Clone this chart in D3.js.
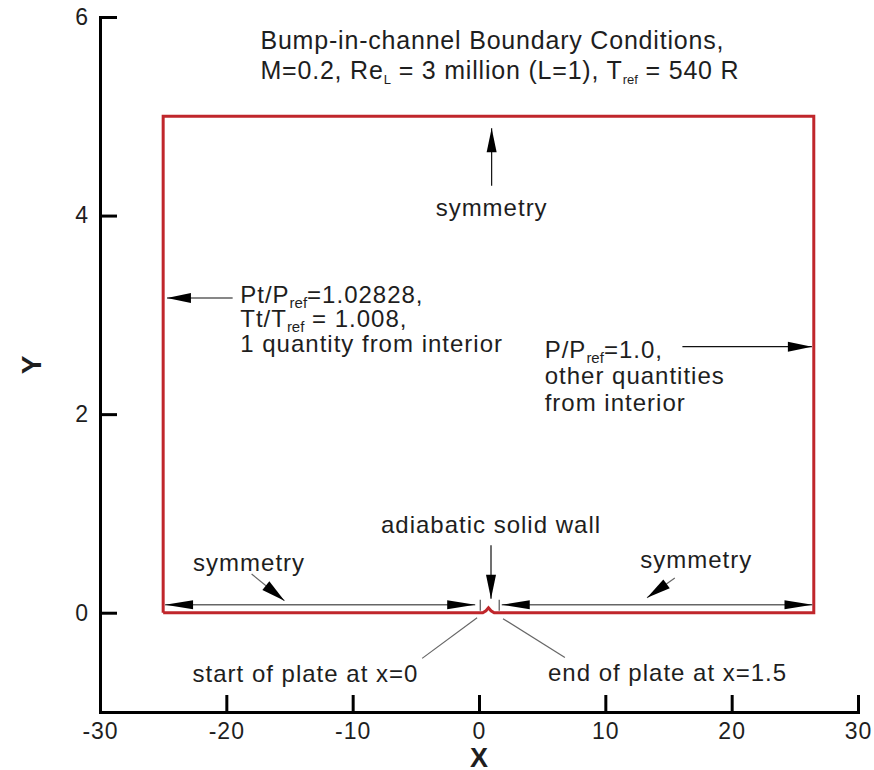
<!DOCTYPE html>
<html>
<head>
<meta charset="utf-8">
<script src="https://cdn.jsdelivr.net/npm/d3@7"></script>
<style>
  body { margin: 0; background: #fff; }
  svg text { font-family: "Liberation Sans", Arial, sans-serif; fill: #1e1e1e; }
</style>
</head>
<body>
<svg id="chart" width="874" height="770"></svg>
<script>
// axis ticks
var xMajor = [-30, -20, -10, 0, 10, 20, 30];
var yMajor = [0, 2, 4, 6];
var xMinorStep = 2, yMinorStep = 0.5;

// channel boundary (red line), with the small bump on the plate
var boundary = [[-25, 0], [0.3, 0], [0.55, 0.02], [0.75, 0.05], [0.95, 0.02], [1.2, 0],
                [26.5, 0], [26.5, 5], [-25, 5], [-25, 0]];

// plate start / end marks
var plateMarks = [0.1, 1.6];

// annotation arrows, data coords. kind: big = black pointer, sym = double headed gray line
var arrows = [
  {x1: 1.0, y1: 4.3, x2: 1.0, y2: 4.88, kind: "big"},
  {x1: -19.5, y1: 3.17, x2: -24.7, y2: 3.17, kind: "big"},
  {x1: 16.1, y1: 2.68, x2: 26.35, y2: 2.68, kind: "big"},
  {x1: 0.95, y1: 0.68, x2: 0.95, y2: 0.14, kind: "big"},
  {x1: -24.85, y1: 0.08, x2: -0.3, y2: 0.08, kind: "sym"},
  {x1: 1.8, y1: 0.08, x2: 26.4, y2: 0.08, kind: "sym"},
  {x1: -18.0, y1: 0.39, x2: -15.4, y2: 0.12, kind: "lead"},
  {x1: 15.5, y1: 0.35, x2: 13.3, y2: 0.15, kind: "lead"}
];

// leader lines without heads
var leaders = [
  {x1: -4.5, y1: -0.46, x2: -0.15, y2: -0.05},
  {x1: 1.9, y1: -0.06, x2: 6.8, y2: -0.45}
];

// text blocks; ["ref"] = subscript
var notes = [
  {x: -17.3, y: 5.68, anchor: "start", lh: 30, size: 25, ls: 0.8, sub: 13, lines: [
    ["Bump-in-channel Boundary Conditions,"],
    ["M=0.2, Re", ["L"], " = 3 million (L=1), T", ["ref"], " = 540 R"]]},
  {x: 1.0, y: 4.0, anchor: "middle", lh: 26, lines: [["symmetry"]]},
  {x: -18.9, y: 3.12, anchor: "start", lh: 24.5, lines: [
    ["Pt/P", ["ref"], "=1.02828,"],
    ["Tt/T", ["ref"], " = 1.008,"],
    ["1 quantity from interior"]]},
  {x: 5.2, y: 2.57, anchor: "start", lh: 26.5, lines: [
    ["P/P", ["ref"], "=1.0,"],
    ["other quantities"],
    ["from interior"]]},
  {x: 0.95, y: 0.8, anchor: "middle", lh: 26, lines: [["adiabatic solid wall"]]},
  {x: -18.2, y: 0.42, anchor: "middle", lh: 26, lines: [["symmetry"]]},
  {x: 17.2, y: 0.45, anchor: "middle", lh: 26, lines: [["symmetry"]]},
  {x: -4.8, y: -0.7, anchor: "end", lh: 26, lines: [["start of plate at x=0"]]},
  {x: 5.46, y: -0.69, anchor: "start", lh: 26, lines: [["end of plate at x=1.5"]]}
];

var svg = d3.select("#chart");
var x = d3.scaleLinear().domain([-30, 30]).range([100, 858]);
var y = d3.scaleLinear().domain([-1, 6]).range([712, 17]);

// axes
var xMinor = d3.range(-30, 31, xMinorStep).filter(function(v) { return xMajor.indexOf(v) < 0; });
var yMinor = d3.range(-1, 6.01, yMinorStep).filter(function(v) { return yMajor.indexOf(v) < 0; });
var fmt = function(d) { return String(d); };   // plain hyphen like the original

var gx = svg.append("g").attr("transform", "translate(0," + y(-1) + ")");
gx.call(d3.axisBottom(x).tickValues(xMinor).tickSize(-10).tickFormat(""));
gx.call(d3.axisBottom(x).tickValues(xMajor).tickSize(-17).tickPadding(11).tickFormat(fmt));

var gy = svg.append("g").attr("transform", "translate(" + x(-30) + ",0)");
gy.call(d3.axisLeft(y).tickValues(yMinor).tickSize(-10).tickFormat(""));
gy.call(d3.axisLeft(y).tickValues(yMajor).tickSize(-17).tickPadding(11).tickFormat(fmt));

svg.selectAll(".domain").attr("stroke", "#000").attr("stroke-width", 3);
svg.selectAll(".tick line").attr("stroke", "#000").attr("stroke-width", 2);
gx.selectAll(".tick line").filter(function(d) { return xMajor.indexOf(d) >= 0; }).attr("stroke-width", 3);
gy.selectAll(".tick line").filter(function(d) { return yMajor.indexOf(d) >= 0; }).attr("stroke-width", 3);
svg.selectAll(".tick text").style("font-size", "23px").style("letter-spacing", "1px")
  .style("font-family", "Liberation Sans, Arial, sans-serif").attr("fill", "#1e1e1e");

svg.append("text").attr("x", x(0)).attr("y", 767).attr("text-anchor", "middle")
  .style("font-size", "27px").style("font-weight", "bold").text("X");
svg.append("text").attr("transform", "translate(41," + 365 + ") rotate(-90)")
  .attr("text-anchor", "middle").style("font-size", "28px").style("font-weight", "bold").text("Y");

// boundary
svg.append("path")
  .attr("d", d3.line().x(function(d) { return x(d[0]); }).y(function(d) { return y(d[1]); })(boundary))
  .attr("fill", "none").attr("stroke", "#c0262b").attr("stroke-width", 3).attr("stroke-linejoin", "miter");

// plate marks
svg.selectAll(".pmark").data(plateMarks).enter().append("line")
  .attr("x1", function(d) { return x(d); }).attr("x2", function(d) { return x(d); })
  .attr("y1", y(0.13)).attr("y2", y(0.02))
  .attr("stroke", "#555").attr("stroke-width", 1.2);

function head(px, py, ang, len, hw) {
  var c = Math.cos(ang), s = Math.sin(ang);
  var bx = px - c * len, by = py - s * len;
  return [[px, py], [bx - s * hw, by + c * hw], [bx + s * hw, by - c * hw]];
}

var ag = svg.append("g");
arrows.forEach(function(a) {
  var x1 = x(a.x1), y1 = y(a.y1), x2 = x(a.x2), y2 = y(a.y2);
  var ang = Math.atan2(y2 - y1, x2 - x1);
  var sym = a.kind === "sym";
  ag.append("line").attr("x1", x1).attr("y1", y1).attr("x2", x2).attr("y2", y2)
    .attr("stroke", a.kind === "big" ? "#111" : "#666").attr("stroke-width", sym ? 1.6 : 1.2);
  var len = sym ? 28 : 24;
  var hw = sym ? 4.5 : (a.kind === "lead" ? 5.5 : 5);
  ag.append("polygon").attr("points", head(x2, y2, ang, len, hw).join(" ")).attr("fill", "#000");
  if (sym) {
    ag.append("polygon").attr("points", head(x1, y1, ang + Math.PI, len, hw).join(" ")).attr("fill", "#000");
  }
});

svg.selectAll(".leader").data(leaders).enter().append("line")
  .attr("x1", function(d) { return x(d.x1); }).attr("y1", function(d) { return y(d.y1); })
  .attr("x2", function(d) { return x(d.x2); }).attr("y2", function(d) { return y(d.y2); })
  .attr("stroke", "#666").attr("stroke-width", 1.2);

// texts
notes.forEach(function(n) {
  var size = n.size || 24, ls = n.ls != null ? n.ls : 1, sub = n.sub || 15;
  n.lines.forEach(function(line, i) {
    var t = svg.append("text").attr("x", x(n.x)).attr("y", y(n.y) + i * n.lh)
      .attr("text-anchor", n.anchor).style("font-size", size + "px").style("letter-spacing", ls + "px");
    var low = false;
    line.forEach(function(seg) {
      if (Array.isArray(seg)) {
        t.append("tspan").attr("dy", 5).style("font-size", sub + "px").style("letter-spacing", "0px").text(seg[0]);
        low = true;
      } else {
        var ts = t.append("tspan").text(seg);
        if (low) { ts.attr("dy", -5); low = false; }
      }
    });
  });
});
</script>
</body>
</html>
